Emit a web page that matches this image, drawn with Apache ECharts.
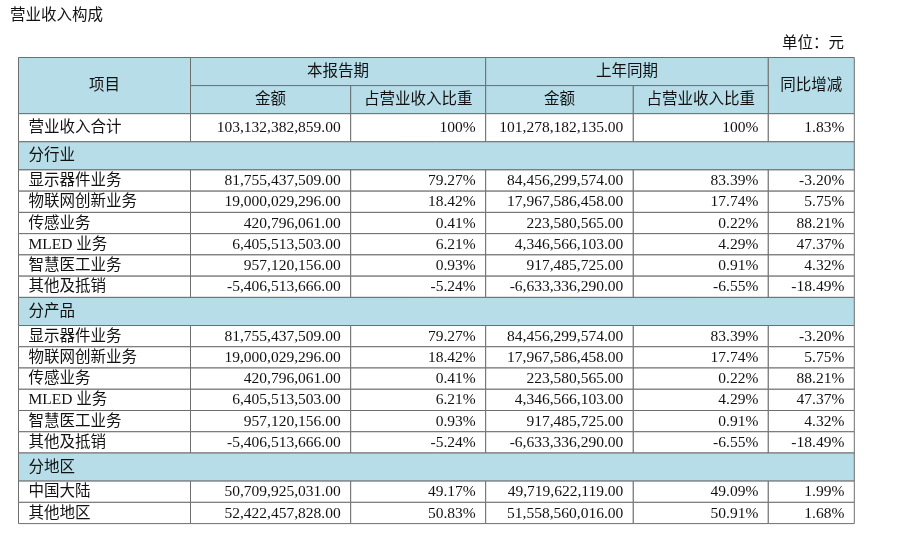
<!DOCTYPE html>
<html>
<head>
<meta charset="utf-8">
<script src="https://cdn.jsdelivr.net/npm/echarts@6/dist/echarts.min.js"></script>
<style>
  html, body { margin: 0; padding: 0; background: #ffffff; }
  #chart { width: 900px; height: 536px; }
</style>
</head>
<body>
<div id="chart"></div>
<script>
// ---------------- data ----------------
const titleText = '营业收入构成';
const unitText = '单位：元';
const headerTop = ['项目', '本报告期', '上年同期', '同比增减'];
const headerSub = ['金额', '占营业收入比重', '金额', '占营业收入比重'];

const totalName = '营业收入合计';
const totalCurAmount = 103132382859.00;
const totalCurPct = 100;
const totalPrevAmount = 101278182135.00;
const totalPrevPct = 100;
const totalYoy = 1.83;

const sectionNames = ['分行业', '分产品', '分地区'];

const industryNames = ['显示器件业务', '物联网创新业务', '传感业务', 'MLED 业务', '智慧医工业务', '其他及抵销'];
const industryCurAmount = [81755437509.00, 19000029296.00, 420796061.00, 6405513503.00, 957120156.00, -5406513666.00];
const industryCurPct = [79.27, 18.42, 0.41, 6.21, 0.93, -5.24];
const industryPrevAmount = [84456299574.00, 17967586458.00, 223580565.00, 4346566103.00, 917485725.00, -6633336290.00];
const industryPrevPct = [83.39, 17.74, 0.22, 4.29, 0.91, -6.55];
const industryYoy = [-3.20, 5.75, 88.21, 47.37, 4.32, -18.49];

const productNames = ['显示器件业务', '物联网创新业务', '传感业务', 'MLED 业务', '智慧医工业务', '其他及抵销'];
const productCurAmount = [81755437509.00, 19000029296.00, 420796061.00, 6405513503.00, 957120156.00, -5406513666.00];
const productCurPct = [79.27, 18.42, 0.41, 6.21, 0.93, -5.24];
const productPrevAmount = [84456299574.00, 17967586458.00, 223580565.00, 4346566103.00, 917485725.00, -6633336290.00];
const productPrevPct = [83.39, 17.74, 0.22, 4.29, 0.91, -6.55];
const productYoy = [-3.20, 5.75, 88.21, 47.37, 4.32, -18.49];

const regionNames = ['中国大陆', '其他地区'];
const regionCurAmount = [50709925031.00, 52422457828.00];
const regionCurPct = [49.17, 50.83];
const regionPrevAmount = [49719622119.00, 51558560016.00];
const regionPrevPct = [49.09, 50.91];
const regionYoy = [1.99, 1.68];

// ---------------- layout / style ----------------
const FONT = '"Liberation Serif", "Times New Roman", "Noto Sans CJK SC", serif';
const FONT_SIZE = 15.5;
const TEXT_COLOR = '#111111';
const BLUE = '#b7dde8';
const BORDER = '#6e6e6e';
const colEdges = [0, 172, 332.2, 467.2, 614.8, 749.8, 835.8];
const TALL = 28.1;
const SHORT = 21.25;
const PAD = 10;

function fmtAmount(v) {
  const neg = v < 0;
  const s = Math.abs(v).toFixed(2);
  const parts = s.split('.');
  const i = parts[0].replace(/\B(?=(\d{3})+(?!\d))/g, ',');
  return (neg ? '-' : '') + i + '.' + parts[1];
}
function fmtPct(v) {
  return (v === 100 ? '100' : v.toFixed(2)) + '%';
}

const cells = [];
function addCell(c0, c1, y0, y1, text, align, fill) {
  cells.push({ x0: colEdges[c0], x1: colEdges[c1], y0: y0, y1: y1, text: text, align: align, fill: fill });
}
function addRow(y, h, name, ca, cp, pa, pp, yoy) {
  addCell(0, 1, y, y + h, name, 'left', '#ffffff');
  addCell(1, 2, y, y + h, fmtAmount(ca), 'right', '#ffffff');
  addCell(2, 3, y, y + h, fmtPct(cp), 'right', '#ffffff');
  addCell(3, 4, y, y + h, fmtAmount(pa), 'right', '#ffffff');
  addCell(4, 5, y, y + h, fmtPct(pp), 'right', '#ffffff');
  addCell(5, 6, y, y + h, fmtPct(yoy), 'right', '#ffffff');
}

let y = 0;
// header
addCell(0, 1, 0, 2 * TALL, headerTop[0], 'center', BLUE);
addCell(1, 3, 0, TALL, headerTop[1], 'center', BLUE);
addCell(3, 5, 0, TALL, headerTop[2], 'center', BLUE);
addCell(5, 6, 0, 2 * TALL, headerTop[3], 'center', BLUE);
for (let k = 0; k < 4; k++) addCell(k + 1, k + 2, TALL, 2 * TALL, headerSub[k], 'center', BLUE);
y = 2 * TALL;
addRow(y, TALL, totalName, totalCurAmount, totalCurPct, totalPrevAmount, totalPrevPct, totalYoy);
y += TALL;

const sections = [
  [industryNames, industryCurAmount, industryCurPct, industryPrevAmount, industryPrevPct, industryYoy],
  [productNames, productCurAmount, productCurPct, productPrevAmount, productPrevPct, productYoy],
  [regionNames, regionCurAmount, regionCurPct, regionPrevAmount, regionPrevPct, regionYoy]
];
sections.forEach(function (sec, si) {
  addCell(0, 6, y, y + TALL, sectionNames[si], 'left', BLUE);
  y += TALL;
  for (let r = 0; r < sec[0].length; r++) {
    addRow(y, SHORT, sec[0][r], sec[1][r], sec[2][r], sec[3][r], sec[4][r], sec[5][r]);
    y += SHORT;
  }
});
const totalHeight = y;

const chart = echarts.init(document.getElementById('chart'), null, { renderer: 'canvas' });
chart.setOption({
  animation: false,
  backgroundColor: '#ffffff',
  title: [
    { text: titleText, left: 10, top: 8, padding: 0,
      textStyle: { fontSize: FONT_SIZE, fontWeight: 'normal', color: TEXT_COLOR, fontFamily: FONT } },
    { text: unitText, right: 56, top: 36, padding: 0,
      textStyle: { fontSize: FONT_SIZE, fontWeight: 'normal', color: TEXT_COLOR, fontFamily: FONT } }
  ],
  grid: { left: 18.5, top: 57.5, width: colEdges[colEdges.length - 1], height: totalHeight, containLabel: false },
  xAxis: { type: 'value', min: 0, max: colEdges[colEdges.length - 1], show: false },
  yAxis: { type: 'value', min: 0, max: totalHeight, inverse: true, show: false },
  series: [{
    type: 'custom',
    silent: true,
    clip: false,
    encode: { x: [0, 2], y: [1, 3] },
    data: cells.map(function (c) { return [c.x0, c.y0, c.x1, c.y1]; }),
    renderItem: function (params, api) {
      const c = cells[params.dataIndex];
      const p0 = api.coord([api.value(0), api.value(1)]);
      const p1 = api.coord([api.value(2), api.value(3)]);
      const w = p1[0] - p0[0];
      const h = p1[1] - p0[1];
      let tx;
      if (c.align === 'left') tx = p0[0] + PAD;
      else if (c.align === 'right') tx = p1[0] - PAD;
      else tx = p0[0] + w / 2;
      return {
        type: 'group',
        children: [
          { type: 'rect', shape: { x: p0[0], y: p0[1], width: w, height: h },
            style: { fill: c.fill, stroke: BORDER, lineWidth: 1 } },
          { type: 'text', style: { text: c.text, x: tx, y: p0[1] + h / 2 + 0.5,
            align: c.align, verticalAlign: 'middle',
            fontSize: FONT_SIZE, fontFamily: FONT, fill: TEXT_COLOR } }
        ]
      };
    }
  }]
});
</script>
</body>
</html>
